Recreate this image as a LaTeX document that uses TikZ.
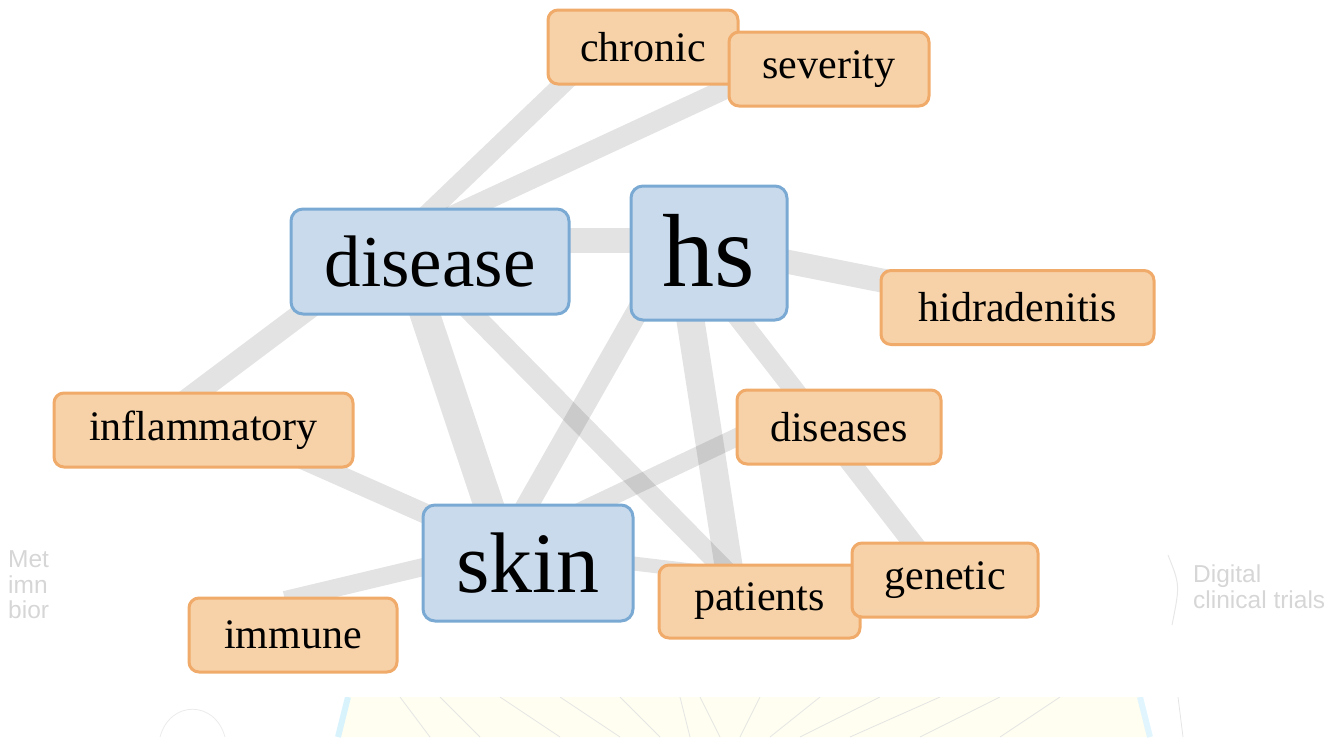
\documentclass[tikz,border=0pt]{standalone}
\usepackage{fontspec}
\setmainfont{Liberation Serif}
\newfontfamily\ghostfont{Liberation Sans}
\definecolor{fblue}{HTML}{C9DAEC}
\definecolor{bblue}{HTML}{7AAAD3}
\definecolor{forange}{HTML}{F7D2A8}
\definecolor{borange}{HTML}{F0AA6A}
\definecolor{faint}{HTML}{D6D6D6}
\tikzset{
  link/.style={line width=#1, draw=black, draw opacity=0.11, line cap=butt},
  mainbox/.style={draw=bblue, fill=fblue, line width=3pt, rounded corners=12pt, inner sep=0pt},
  wordbox/.style={draw=borange, fill=forange, line width=3pt, rounded corners=10pt, inner sep=0pt,
    minimum height=74pt, font=\fontsize{42}{44}\selectfont},
  ghost/.style={text=faint, inner sep=0pt, anchor=base west, font=\ghostfont\fontsize{24.5}{27}\selectfont}
}
\begin{document}
\begin{tikzpicture}[x=1pt,y=-1pt]
\useasboundingbox (0,0) rectangle (1336,737);
% faint background remnants
\begin{scope}
\clip (0,520) rectangle (48,640);
\node[ghost] (met) at (8,567) {Met};
\node[ghost] (imn) at (8,593) {imn};
\node[ghost] (bior) at (8,618) {bior};
\end{scope}
\node[ghost] (dig) at (1193,582) {Digital};
\node[ghost] (clin) at (1193,608) {clinical trials};
\draw[faint!60, line width=1pt] (1168,555) .. controls (1180,585) .. (1172,625);
\begin{scope}
\clip (0,697) rectangle (1336,737);
\fill[yellow!6] (350,697) -- (1140,697) -- (1148,737) -- (338,737) -- cycle;
\draw[cyan!15, line width=6pt] (348,697) -- (338,737);
\draw[cyan!12, line width=6pt] (1140,697) -- (1150,737);
\foreach \a/\b in {400/430,440/480,500/560,560/620,620/660,680/690,700/720,760/740,820/770,880/800,940/850,1000/920,1060/1000}
  \draw[black!10, line width=0.8pt] (\a,697) -- (\b,737);
\draw[black!8, line width=0.8pt] (160,737) .. controls (170,700) and (215,700) .. (225,737);
\draw[black!10, line width=0.8pt] (1178,697) -- (1183,737);
\end{scope}
% node points
\coordinate (pD) at (400,240);
\coordinate (pH) at (678,240);
\coordinate (pS) at (503,548);
\coordinate (pP) at (730,575);
\coordinate (pG) at (926,560);
\coordinate (pDs) at (790,412);
\coordinate (pHi) at (950,294);
\coordinate (pC) at (590,58);
\coordinate (pV) at (760,73);
\coordinate (pI) at (180,405);
\coordinate (pM) at (285,600);
% edges
\draw[link=19pt] (pD) -- (pC);
\draw[link=20pt] (pD) -- (pV);
\draw[link=25pt] (pD) -- (pH);
\draw[link=22pt] (pD) -- (pI);
\draw[link=30pt] (pD) -- (pS);
\draw[link=20pt] (pD) -- (pP);
\draw[link=24pt] (pH) -- (pHi);
\draw[link=22pt] (pH) -- (pS);
\draw[link=28pt] (pH) -- (pP);
\draw[link=20pt] (pH) -- (pG);
\draw[link=18pt] (pS) -- (pDs);
\draw[link=20pt] (pS) -- (pI);
\draw[link=18pt] (pS) -- (pM);
\draw[link=14pt] (pS) -- (pP);
% nodes
\node[wordbox, minimum width=190pt] (chronic) at (643,47) {chronic};
\node[wordbox, minimum width=200pt] (severity) at (829,69) {severity};
\node[mainbox, minimum width=278pt, minimum height=105pt, font=\fontsize{73}{76}\selectfont] (disease) at (430,261.5) {disease};
\node[mainbox, minimum width=156pt, minimum height=134pt, font=\fontsize{104}{108}\selectfont] (hs) at (709,253) {\raisebox{5pt}{hs}};
\node[wordbox, minimum width=273pt] (hidradenitis) at (1017.5,307.5) {hidradenitis};
\node[wordbox, minimum width=299pt] (inflammatory) at (203.5,430) {inflammatory};
\node[wordbox, minimum width=204pt] (diseases) at (839,427) {diseases};
\node[mainbox, minimum width=210pt, minimum height=116pt, font=\fontsize{86}{90}\selectfont] (skin) at (528,563) {skin};
\node[wordbox, minimum width=201pt, minimum height=73pt] (patients) at (759.5,601.5) {patients};
\node[wordbox, minimum width=186pt] (genetic) at (945,580) {genetic};
\node[wordbox, minimum width=208pt] (immune) at (293,635) {immune};
\end{tikzpicture}
\end{document}
